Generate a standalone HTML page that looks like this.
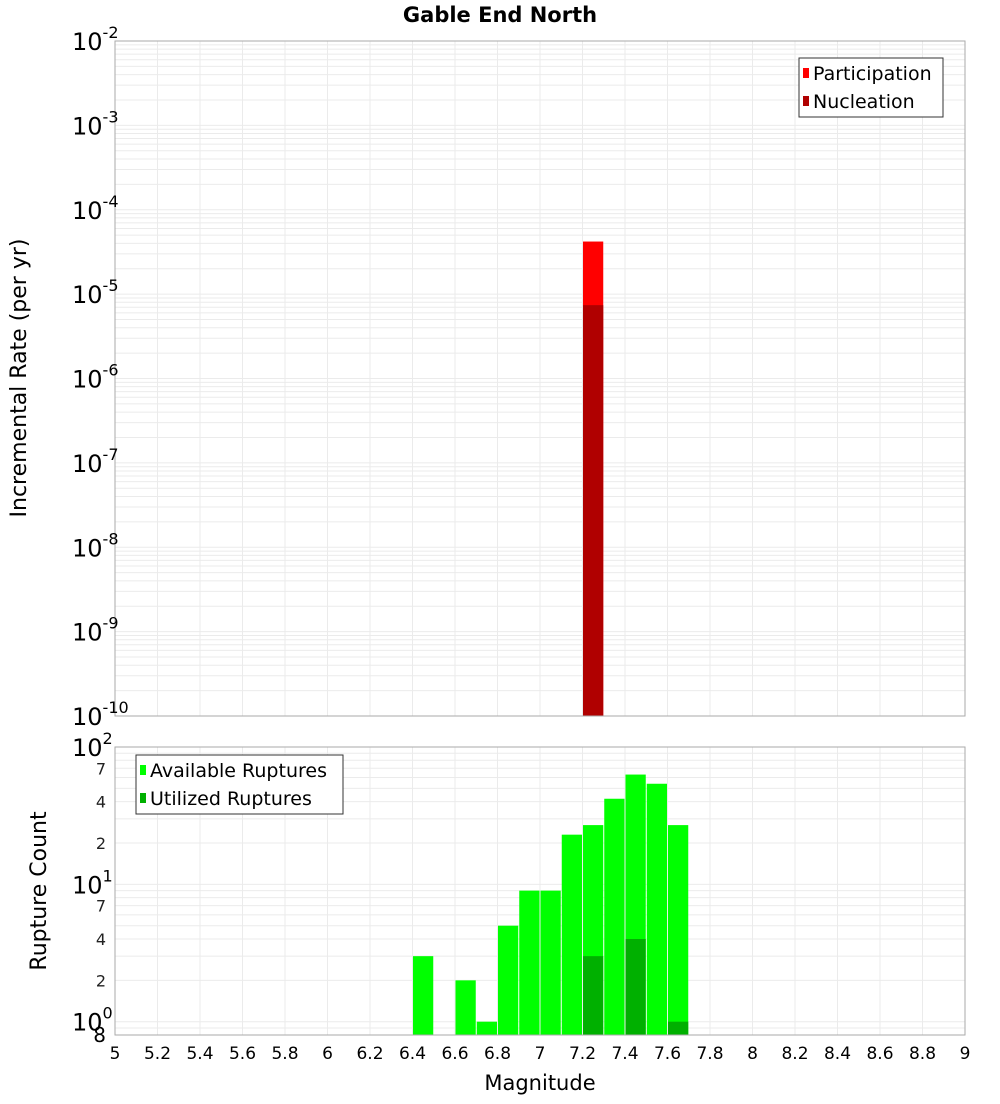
<!DOCTYPE html>
<html><head><meta charset="utf-8"><style>
body{margin:0;background:#fff;font-family:"DejaVu Sans","Liberation Sans",sans-serif}
svg text{font-family:"DejaVu Sans","Liberation Sans",sans-serif}
</style></head><body>
<svg id="c" width="1000" height="1100" xmlns="http://www.w3.org/2000/svg">
<text x="500" y="22" text-anchor="middle" font-size="21" font-weight="bold">Gable End North</text>
<text transform="translate(26,378) rotate(-90)" text-anchor="middle" font-size="22">Incremental Rate (per yr)</text>
<text transform="translate(46,891) rotate(-90)" text-anchor="middle" font-size="22">Rupture Count</text>
<text x="540" y="1090" text-anchor="middle" font-size="21">Magnitude</text>
<g id="grid"></g><g id="bars"></g><g id="axes"></g>
</svg>
<script>
// Top chart data
const rateMags = [7.25];
const participation = [4.2e-5];
const nucleation = [7.4e-6];
// Bottom chart data
const countMags = [6.45,6.65,6.75,6.85,6.95,7.05,7.15,7.25,7.35,7.45,7.55,7.65];
const available = [3,2,1,5,9,9,23,27,42,63,54,27];
const utilizedMags = [7.25,7.45,7.65];
const utilized = [3,4,1];
const xTicks = [5,5.2,5.4,5.6,5.8,6,6.2,6.4,6.6,6.8,7,7.2,7.4,7.6,7.8,8,8.2,8.4,8.6,8.8,9];
const topDecades = [-2,-3,-4,-5,-6,-7,-8,-9,-10];
const botDecades = [2,1,0];

const NS='http://www.w3.org/2000/svg';
const X0=115,X1=965;
const T={top:41,bot:716,lmin:-10,lmax:-2};
const B={top:747,bot:1035,lmin:Math.log10(0.8),lmax:2};
function x(m){return X0+(m-5)/4*(X1-X0);}
function yT(v){return T.bot-(Math.log10(v)-T.lmin)/(T.lmax-T.lmin)*(T.bot-T.top);}
function yB(v){return B.bot-(Math.log10(v)-B.lmin)/(B.lmax-B.lmin)*(B.bot-B.top);}
function el(tag,attrs,parent,txt){const e=document.createElementNS(NS,tag);for(const k in attrs)e.setAttribute(k,attrs[k]);if(txt!==undefined)e.textContent=txt;parent.appendChild(e);return e;}
const grid=document.getElementById('grid'),bars=document.getElementById('bars'),axes=document.getElementById('axes');

// grids
[[T,yT,-10,-2],[B,yB,-1,2]].forEach(([P,yf,a,b])=>{
  for(let d=a;d<b;d++)for(let k=1;k<10;k++){const v=k*Math.pow(10,d);const yy=yf(v);if(yy<P.top-0.1||yy>P.bot+0.1)continue;
    const g=el('line',{x1:X0,x2:X1,y1:yy,y2:yy,stroke:'#ebebeb','stroke-width':1},grid);
    
    }
  xTicks.forEach(m=>{const g=el('line',{x1:x(m),x2:x(m),y1:P.top,y2:P.bot,stroke:'#ebebeb','stroke-width':1},grid);
    
    });
});

const bw=(X1-X0)/40;
function bar(m,v,yf,P,color,name){const yy=yf(v);const r=el('rect',{x:x(m)-bw/2+0.5,y:yy,width:bw-1,height:P.bot-yy,fill:color},bars);
  
  }
rateMags.forEach((m,i)=>bar(m,participation[i],yT,T,'#ff0000','participation-bar'));
rateMags.forEach((m,i)=>bar(m,nucleation[i],yT,T,'#b00000','nucleation-bar'));
countMags.forEach((m,i)=>bar(m,available[i],yB,B,'#00ff00','available-bar'));
utilizedMags.forEach((m,i)=>bar(m,utilized[i],yB,B,'#00b000','utilized-bar'));

// frames
[T,B].forEach(P=>{const f=el('rect',{x:X0,y:P.top,width:X1-X0,height:P.bot-P.top,fill:'none',stroke:'#aaa','stroke-width':1},axes);
  
  });

// top y labels
topDecades.forEach(d=>{const yy=yT(Math.pow(10,d));
  const t=el('text',{x:72,y:yy+9,'font-size':24},axes);
  
  
  el('tspan',{},t,'10');el('tspan',{dy:-12,'font-size':16},t,String(d));});
// bottom y labels
botDecades.forEach(d=>{const yy=yB(Math.pow(10,d));
  const t=el('text',{x:72,y:yy+9,'font-size':24},axes);
  
  
  el('tspan',{},t,'10');el('tspan',{dy:-12,'font-size':16},t,String(d));
  if(d>0){[7,4,2].forEach(k=>{const v=k*Math.pow(10,d-1);const m=el('text',{x:106,y:yB(v)+6,'font-size':16,'text-anchor':'end',fill:'#222'},axes,String(k));
    
    });}
});
const m8=el('text',{x:106,y:yB(0.8)+7,'font-size':20,'text-anchor':'end'},axes,'8');


// x labels
xTicks.forEach(m=>{const t=el('text',{x:x(m),y:1059,'font-size':17,'text-anchor':'middle'},axes,String(m));
  
  });

// legends
function legend(x0,y0,w,items,name){const g=el('g',{},axes);
  
  
  el('rect',{x:x0,y:y0,width:w,height:59,fill:'#fff',stroke:'#333','stroke-width':1},g);
  items.forEach((it,i)=>{const cy=y0+15+i*28;
    el('rect',{x:x0+4,y:cy-5,width:6,height:10,fill:it[1]},g);
    const t=el('text',{x:x0+14,y:cy+7,'font-size':19},g,it[0]);
    
    });}
legend(799,58,144,[['Participation','#ff0000'],['Nucleation','#b00000']],'top-legend');
legend(136,755,207,[['Available Ruptures','#00ff00'],['Utilized Ruptures','#00b000']],'bottom-legend');
</script>
</body></html>
